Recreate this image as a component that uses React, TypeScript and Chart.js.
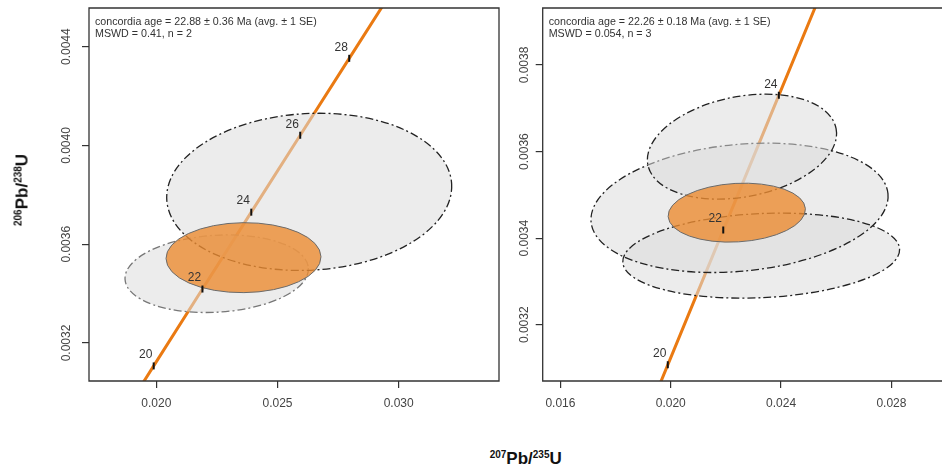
import React, { useEffect, useRef } from "react";
import { Chart, registerables } from "chart.js";

Chart.register(...registerables);

// ---------- shared concordia (age ticks in Ma and their ratios) ----------
const AGE_TICKS = [18, 20, 22, 24, 26, 28, 30];
const CONCORDIA_X = [0.017885, 0.019892, 0.021903, 0.023918, 0.025937, 0.027959, 0.029986];
const CONCORDIA_Y = [0.0027962, 0.0031073, 0.0034186, 0.0037299, 0.0040414, 0.0043529, 0.0046646];

// ---------- left panel ----------
const L_X_RANGE = [0.017223, 0.034138];
const L_Y_RANGE = [0.0030462, 0.0045567];
const L_X_TICKS = [0.02, 0.025, 0.03];
const L_X_TICK_LABELS = ["0.020", "0.025", "0.030"];
const L_Y_TICKS = [0.0032, 0.0036, 0.004, 0.0044];
const L_Y_TICK_LABELS = ["0.0032", "0.0036", "0.0040", "0.0044"];
// data ellipses: centre, half-width, half-height, correlation
const L_ELL_X = [0.022492, 0.026308];
const L_ELL_SX = [0.003783, 0.005879];
const L_ELL_Y = [0.0034806, 0.0038122];
const L_ELL_SY = [0.0001571, 0.0003182];
const L_ELL_RHO = [0.12, 0.07];
// concordia age ellipse: x, sx, y, sy, rho
const L_AGE_ELL = [0.023597, 0.003197, 0.0035457, 0.0001417, 0.02];
const L_TEXT = ["concordia age = 22.88 ± 0.36 Ma (avg. ± 1 SE)", "MSWD = 0.41, n = 2"];

// ---------- right panel ----------
const R_X_RANGE = [0.015357, 0.029761];
const R_Y_RANGE = [0.00307, 0.0039316];
const R_X_TICKS = [0.016, 0.02, 0.024, 0.028];
const R_X_TICK_LABELS = ["0.016", "0.020", "0.024", "0.028"];
const R_Y_TICKS = [0.0032, 0.0034, 0.0036, 0.0038];
const R_Y_TICK_LABELS = ["0.0032", "0.0034", "0.0036", "0.0038"];
const R_ELL_X = [0.022493, 0.023279, 0.022582];
const R_ELL_SX = [0.005386, 0.005018, 0.003429];
const R_ELL_Y = [0.00347, 0.0033596, 0.0036113];
const R_ELL_SY = [0.0001494, 0.0000982, 0.0001212];
const R_ELL_RHO = [0.18, 0.14, 0.25];
const R_AGE_ELL = [0.022393, 0.002489, 0.0034589, 0.0000681, 0.11];
const R_TEXT = ["concordia age = 22.26 ± 0.18 Ma (avg. ± 1 SE)", "MSWD = 0.054, n = 3"];

// ---------- styles ----------
const FONT = '"Liberation Sans", Arial, Helvetica, sans-serif';
const ORANGE = "#EA7A12";
const GRAY_FILL = "rgba(220,220,220,0.55)";
const AGE_FILL = "rgba(236,140,50,0.8)";
const AXIS_COLOR = "#333";
const L_ELL_STROKE = ["#777", "#222"];
const R_ELL_STROKE = ["#222", "#222", "#222"];
// drawing layers: ellipses of one layer are filled first, then outlined
const L_ELL_LAYER = [0, 1];
const R_ELL_LAYER = [0, 0, 1];

type Panel = {
  xRange: number[];
  yRange: number[];
  xTicks: number[];
  xTickLabels: string[];
  yTicks: number[];
  yTickLabels: string[];
  ex: number[];
  esx: number[];
  ey: number[];
  esy: number[];
  erho: number[];
  estroke: string[];
  elayer: number[];
  age: number[];
  text: string[];
  yAxisWidth: number;
  padRight: number;
  yLabelGap: number;
  rightBorder: boolean;
};

function ellipsePath(ctx: CanvasRenderingContext2D, xs: any, ys: any, x: number, sx: number, y: number, sy: number, rho: number) {
  const cx = xs.getPixelForValue(x);
  const cy = ys.getPixelForValue(y);
  const kx = xs.getPixelForValue(x + sx) - cx;
  const ky = ys.getPixelForValue(y + sy) - cy;
  const Sxx = kx * kx;
  const Syy = ky * ky;
  const Sxy = rho * kx * ky;
  const m = (Sxx + Syy) / 2;
  const d = Math.sqrt(((Sxx - Syy) / 2) ** 2 + Sxy * Sxy);
  const a = Math.sqrt(m + d);
  const b = Math.sqrt(Math.max(m - d, 0));
  const theta = 0.5 * Math.atan2(2 * Sxy, Sxx - Syy);
  ctx.beginPath();
  ctx.ellipse(cx, cy, a, b, theta, 0, 2 * Math.PI);
}

function makeChart(canvas: HTMLCanvasElement, p: Panel) {
  const plugin = {
    id: "concordiaExtras",
    beforeDatasetDraw(chart: any, args: any) {
      if (args.index !== 1) return;
      const ctx: CanvasRenderingContext2D = chart.ctx;
      const ca = chart.chartArea;
      const xs = chart.scales.x;
      const ys = chart.scales.y;
      ctx.save();
      ctx.beginPath();
      ctx.rect(ca.left, ca.top, ca.right - ca.left, ca.bottom - ca.top);
      ctx.clip();
      const layers = Array.from(new Set(p.elayer)).sort((a, b) => a - b);
      layers.forEach((L) => {
        const idx = p.ex.map((_, i) => i).filter((i) => p.elayer[i] === L);
        idx.forEach((i) => {
          ellipsePath(ctx, xs, ys, p.ex[i], p.esx[i], p.ey[i], p.esy[i], p.erho[i]);
          ctx.fillStyle = GRAY_FILL;
          ctx.fill();
        });
        idx.forEach((i) => {
          ellipsePath(ctx, xs, ys, p.ex[i], p.esx[i], p.ey[i], p.esy[i], p.erho[i]);
          ctx.setLineDash([8, 3, 2, 3]);
          ctx.lineWidth = 1.3;
          ctx.strokeStyle = p.estroke[i];
          ctx.stroke();
        });
      });
      ctx.setLineDash([]);
      ellipsePath(ctx, xs, ys, p.age[0], p.age[1], p.age[2], p.age[3], p.age[4]);
      ctx.fillStyle = AGE_FILL;
      ctx.fill();
      ctx.lineWidth = 1;
      ctx.strokeStyle = "#6a6a6a";
      ctx.stroke();
      ctx.restore();
    },
    afterDatasetsDraw(chart: any) {
      const ctx: CanvasRenderingContext2D = chart.ctx;
      const ca = chart.chartArea;
      const xs = chart.scales.x;
      const ys = chart.scales.y;
      ctx.save();
      // age labels
      ctx.font = `12px ${FONT}`;
      ctx.fillStyle = "#333";
      ctx.textAlign = "center";
      ctx.textBaseline = "middle";
      for (let i = 0; i < AGE_TICKS.length; i++) {
        const px = xs.getPixelForValue(CONCORDIA_X[i]);
        const py = ys.getPixelForValue(CONCORDIA_Y[i]);
        if (px < ca.left || px > ca.right || py < ca.top || py > ca.bottom) continue;
        ctx.fillText(String(AGE_TICKS[i]), px - 8, py - 11);
      }
      // annotation text
      ctx.font = `10.7px ${FONT}`;
      ctx.textAlign = "left";
      ctx.fillStyle = "#333";
      p.text.forEach((t, i) => ctx.fillText(t, ca.left + 6, ca.top + 14.5 + i * 11.5));
      ctx.restore();
    },
    afterDraw(chart: any) {
      const ctx: CanvasRenderingContext2D = chart.ctx;
      const ca = chart.chartArea;
      const ys = chart.scales.y;
      ctx.save();
      // plot box
      ctx.strokeStyle = AXIS_COLOR;
      ctx.lineWidth = 1.3;
      ctx.beginPath();
      if (p.rightBorder) {
        ctx.rect(ca.left, ca.top, ca.right - ca.left, ca.bottom - ca.top);
      } else {
        ctx.moveTo(ca.right + 2, ca.top);
        ctx.lineTo(ca.left, ca.top);
        ctx.lineTo(ca.left, ca.bottom);
        ctx.lineTo(ca.right + 2, ca.bottom);
      }
      ctx.stroke();
      // rotated y tick labels
      ctx.font = `12px ${FONT}`;
      ctx.fillStyle = "#444";
      ctx.textAlign = "center";
      ctx.textBaseline = "middle";
      p.yTicks.forEach((v, i) => {
        const y = ys.getPixelForValue(v);
        ctx.save();
        ctx.translate(ca.left - p.yLabelGap, y);
        ctx.rotate(-Math.PI / 2);
        ctx.fillText(p.yTickLabels[i], 0, 0);
        ctx.restore();
      });
      ctx.restore();
    },
  };

  const concordiaPts = CONCORDIA_X.map((x, i) => ({ x, y: CONCORDIA_Y[i] }));

  return new Chart(canvas, {
    type: "scatter",
    data: {
      datasets: [
        {
          label: "concordia",
          data: concordiaPts,
          showLine: true,
          pointRadius: 0,
          borderColor: ORANGE,
          borderWidth: 3,
          order: 2,
          clip: 0,
        } as any,
        {
          label: "age ticks",
          data: concordiaPts,
          showLine: false,
          pointStyle: "line",
          rotation: 90,
          pointRadius: 3.5,
          borderWidth: 2,
          borderColor: "#111",
          backgroundColor: "#111",
          order: 1,
          clip: 0,
        } as any,
      ],
    },
    options: {
      animation: false,
      responsive: false,
      maintainAspectRatio: false,
      events: [],
      layout: { padding: { left: 0, right: p.padRight, top: 8, bottom: 0 } },
      plugins: { legend: { display: false }, tooltip: { enabled: false } },
      scales: {
        x: {
          type: "linear",
          min: p.xRange[0],
          max: p.xRange[1],
          afterBuildTicks: (axis: any) => {
            axis.ticks = p.xTicks.map((v) => ({ value: v }));
          },
          afterFit: (axis: any) => {
            axis.height = 49;
            axis.paddingLeft = 0;
            axis.paddingRight = 0;
          },
          ticks: {
            autoSkip: false,
            maxRotation: 0,
            minRotation: 0,
            padding: 8,
            color: "#444",
            font: { family: FONT, size: 12 },
            callback: (_v: any, i: number) => p.xTickLabels[i],
          },
          grid: {
            display: true,
            drawOnChartArea: false,
            drawTicks: true,
            tickLength: 7,
            color: AXIS_COLOR,
            lineWidth: 1.2,
          },
          border: { display: false },
        },
        y: {
          type: "linear",
          min: p.yRange[0],
          max: p.yRange[1],
          afterBuildTicks: (axis: any) => {
            axis.ticks = p.yTicks.map((v) => ({ value: v }));
          },
          afterFit: (axis: any) => {
            axis.width = p.yAxisWidth;
            axis.paddingTop = 0;
            axis.paddingBottom = 0;
          },
          ticks: { display: false },
          grid: {
            display: true,
            drawOnChartArea: false,
            drawTicks: true,
            tickLength: 7,
            color: AXIS_COLOR,
            lineWidth: 1.2,
          },
          border: { display: false },
        },
      },
    } as any,
    plugins: [plugin as any],
  });
}

const leftPanel: Panel = {
  xRange: L_X_RANGE,
  yRange: L_Y_RANGE,
  xTicks: L_X_TICKS,
  xTickLabels: L_X_TICK_LABELS,
  yTicks: L_Y_TICKS,
  yTickLabels: L_Y_TICK_LABELS,
  ex: L_ELL_X,
  esx: L_ELL_SX,
  ey: L_ELL_Y,
  esy: L_ELL_SY,
  erho: L_ELL_RHO,
  estroke: L_ELL_STROKE,
  elayer: L_ELL_LAYER,
  age: L_AGE_ELL,
  text: L_TEXT,
  yAxisWidth: 89,
  padRight: 6,
  yLabelGap: 22,
  rightBorder: true,
};

const rightPanel: Panel = {
  xRange: R_X_RANGE,
  yRange: R_Y_RANGE,
  xTicks: R_X_TICKS,
  xTickLabels: R_X_TICK_LABELS,
  yTicks: R_Y_TICKS,
  yTickLabels: R_Y_TICK_LABELS,
  ex: R_ELL_X,
  esx: R_ELL_SX,
  ey: R_ELL_Y,
  esy: R_ELL_SY,
  erho: R_ELL_RHO,
  estroke: R_ELL_STROKE,
  elayer: R_ELL_LAYER,
  age: R_AGE_ELL,
  text: R_TEXT,
  yAxisWidth: 42.7,
  padRight: 0,
  yLabelGap: 18.5,
  rightBorder: false,
};

const titleStyle: React.CSSProperties = {
  position: "absolute",
  font: `bold 17px ${FONT}`,
  color: "#111",
  whiteSpace: "nowrap",
  lineHeight: 1,
};
const supStyle: React.CSSProperties = { fontSize: 10, verticalAlign: "6px", lineHeight: 1 };

export default function App() {
  const leftRef = useRef<HTMLCanvasElement>(null);
  const rightRef = useRef<HTMLCanvasElement>(null);

  useEffect(() => {
    const c1 = makeChart(leftRef.current!, leftPanel);
    const c2 = makeChart(rightRef.current!, rightPanel);
    return () => {
      c1.destroy();
      c2.destroy();
    };
  }, []);

  return (
    <div
      style={{
        position: "fixed",
        left: 0,
        top: 0,
        width: 946,
        height: 471,
        overflow: "hidden",
        background: "#fff",
      }}
    >
      <canvas
        ref={leftRef}
        width={505}
        height={430}
        style={{ position: "absolute", left: 0, top: 0, width: 505, height: 430 }}
      />
      <canvas
        ref={rightRef}
        width={446}
        height={430}
        style={{ position: "absolute", left: 500, top: 0, width: 446, height: 430 }}
      />
      <div
        style={{
          ...titleStyle,
          left: 21.5,
          top: 190,
          transform: "translate(-50%, -50%) rotate(-90deg)",
        }}
      >
        <span style={supStyle}>206</span>Pb/<span style={supStyle}>238</span>U
      </div>
      <div style={{ ...titleStyle, left: 525.7, top: 458, transform: "translate(-50%, -50%)" }}>
        <span style={supStyle}>207</span>Pb/<span style={supStyle}>235</span>U
      </div>
    </div>
  );
}
